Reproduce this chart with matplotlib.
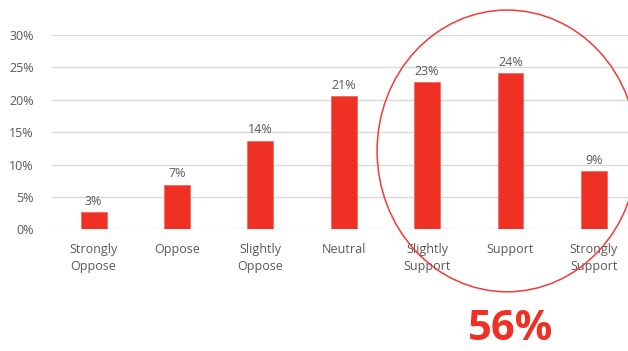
import matplotlib
matplotlib.use("Agg")
import matplotlib.pyplot as plt
from matplotlib.patches import Ellipse
from matplotlib.transforms import blended_transform_factory

# survey responses, share of respondents (%)
categories = ["Strongly\nOppose", "Oppose", "Slightly\nOppose", "Neutral",
              "Slightly\nSupport", "Support", "Strongly\nSupport"]
shares = [2.7, 6.9, 13.7, 20.6, 22.7, 24.1, 9.0]
support_idx = [4, 5, 6]
y_ticks = [0, 5, 10, 15, 20, 25, 30]

RED = "#EE3124"
GREY = "#595959"

plt.rcParams['font.family'] = ['Open Sans', 'DejaVu Sans']

fig = plt.figure(figsize=(6.28, 3.51), dpi=100)
ax = fig.add_axes([52 / 628, 121.7 / 351, 1 - 52 / 628, (316 - 121.7) / 351])

x = list(range(len(categories)))
bars = ax.bar(x, shares, width=0.31, color=RED, edgecolor="#F46A5F", linewidth=0.6, zorder=3)

for b, v in zip(bars, shares):
    ax.annotate(f"{round(v)}%", (b.get_x() + b.get_width() / 2, v),
                xytext=(0, 3), textcoords="offset points",
                ha="center", va="bottom", fontsize=9, color=GREY)

ax.set_xlim(-0.5, 6.41)
ax.set_ylim(0, 30)
ax.set_yticks(y_ticks)
ax.set_yticklabels([f"{t}%" for t in y_ticks])
ax.set_xticks(x)
ax.set_xticklabels(categories, linespacing=1.4)
ax.grid(axis="y", color="#D9D9D9", linewidth=1, zorder=0)
ax.set_axisbelow(True)
for s in ax.spines.values():
    s.set_visible(False)
ax.tick_params(axis="both", length=0, labelsize=9, colors=GREY)
ax.tick_params(axis="y", pad=13)
ax.tick_params(axis="x", pad=10)

# ring around the support responses
cx = sum(support_idx) / len(support_idx) - 0.04
ring = Ellipse((cx, 12.1), width=3.12, height=43.5, fill=False,
               edgecolor="#F23A3A", linewidth=1.1, clip_on=False, zorder=4)
ax.add_patch(ring)

total = sum(shares[i] for i in support_idx)
trans = blended_transform_factory(ax.transData, fig.transFigure)
ax.text(5.0, 21 / 351, f"{round(total)}%", transform=trans, ha="center", va="center",
        fontsize=30, fontweight="bold", color=RED)

fig.savefig("out.png", dpi=100)
